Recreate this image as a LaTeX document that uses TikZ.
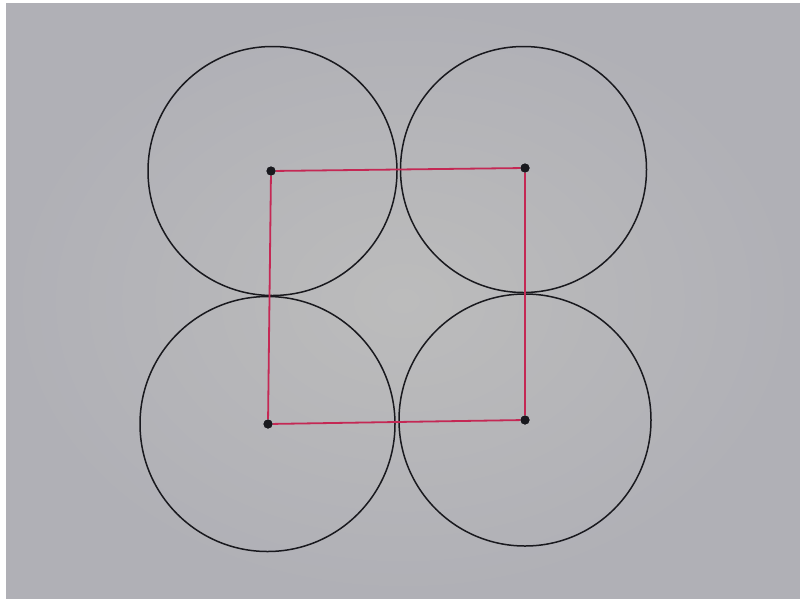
\documentclass[tikz,border=0pt]{standalone}
\usetikzlibrary{shapes.geometric}
\definecolor{paper}{RGB}{176,176,182}
\definecolor{paperhi}{RGB}{188,188,188}
\definecolor{redline}{RGB}{196,40,84}
\definecolor{inkc}{RGB}{25,25,30}
\begin{document}
\begin{tikzpicture}[x=1pt,y=-1pt,
  dotc/.style={circle,fill=inkc,inner sep=0pt,minimum size=9pt},
  ring/.style={circle,draw=inkc,line width=1.5pt,inner sep=0pt,fill=none},
  sqline/.style={draw=redline,line width=1.8pt}]
\useasboundingbox (0,0) rectangle (800,603);
\fill[white] (0,0) rectangle (800,603);
\shade[inner color=paperhi,outer color=paper] (6,3) rectangle (800,598);
% centre dots
\node[dotc] (tl) at (271,171) {};
\node[dotc] (tr) at (525,168) {};
\node[dotc] (bl) at (268,424) {};
\node[dotc] (br) at (525,420) {};
% circles
\node[ring,minimum size=249pt] (ctl) at (272.5,171) {};
\node[ring,minimum size=246pt] (ctr) at (523.5,169.5) {};
\node[ring,minimum size=255pt] (cbl) at (267.5,424) {};
\node[ring,minimum size=252pt] (cbr) at (525,420) {};
% red square
\draw[sqline] (tl) -- (tr) -- (br) -- (bl) -- (tl);
\node[dotc] at (tl) {};
\node[dotc] at (tr) {};
\node[dotc] at (bl) {};
\node[dotc] at (br) {};
\end{tikzpicture}
\end{document}
